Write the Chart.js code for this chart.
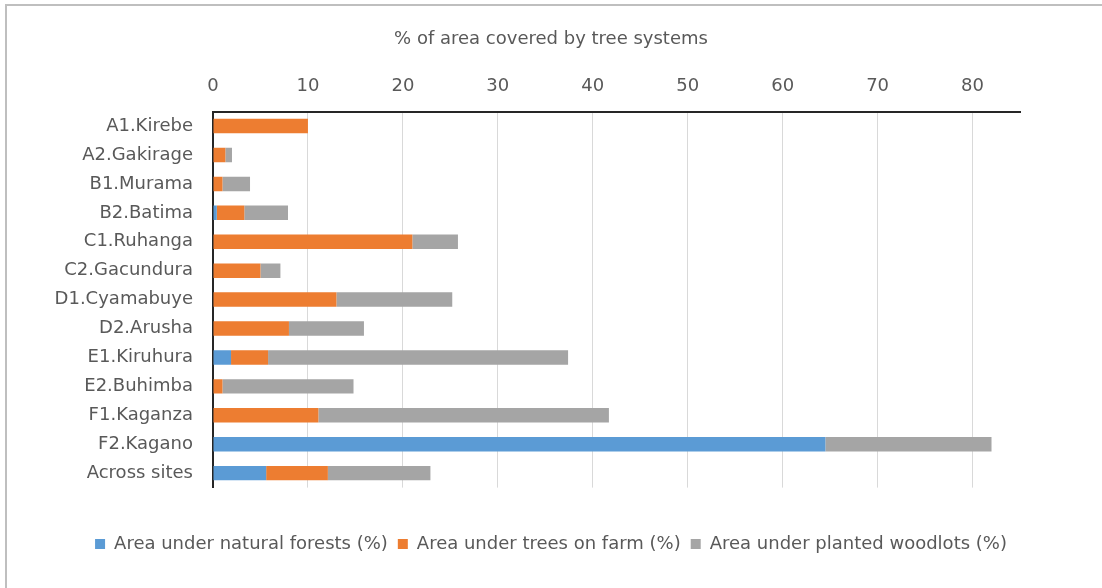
<!DOCTYPE html>
<html lang="en">
<head>
    <meta charset="UTF-8">
    <title>Tree systems cover by site</title>
    <script src="https://cdn.jsdelivr.net/npm/chart.js"></script>
    <style>
        html, body { margin: 0; padding: 0; background: #fff; overflow: hidden; }
        .frame { position: absolute; left: 5px; top: 4px; width: 1097px; height: 584px;
                 border-top: 2px solid #bfbfbf; border-left: 2px solid #bfbfbf; }
        #wrap { position: absolute; left: 0; top: 0; width: 1102px; height: 588px; }
    </style>
</head>
<body>
    <div class="frame"></div>
    <div id="wrap"><canvas id="coverChart"></canvas></div>

    <script>
        const sites = ['A1.Kirebe', 'A2.Gakirage', 'B1.Murama', 'B2.Batima', 'C1.Ruhanga',
                       'C2.Gacundura', 'D1.Cyamabuye', 'D2.Arusha', 'E1.Kiruhura', 'E2.Buhimba',
                       'F1.Kaganza', 'F2.Kagano', 'Across sites'];

        // % of site area under each tree system
        const naturalForest = [0, 0, 0, 0.4, 0, 0, 0, 0, 1.9, 0, 0, 64.5, 5.6];
        const treesOnFarm   = [10.0, 1.3, 1.0, 2.9, 21.0, 5.0, 13.0, 8.0, 3.9, 1.0, 11.1, 0, 6.5];
        const woodlots      = [0, 0.7, 2.9, 4.6, 4.8, 2.1, 12.2, 7.9, 31.6, 13.8, 30.6, 17.5, 10.8];

        const axisTicks = [0, 10, 20, 30, 40, 50, 60, 70, 80];

        const textColor = '#595959';
        const font = { family: "'DejaVu Sans', sans-serif", size: 18 };

        new Chart(document.getElementById('coverChart'), {
            type: 'bar',
            data: {
                labels: sites,
                datasets: [
                    { label: 'Area under natural forests (%)', data: naturalForest, backgroundColor: '#5b9bd5' },
                    { label: 'Area under trees on farm (%)', data: treesOnFarm, backgroundColor: '#ed7d31' },
                    { label: 'Area under planted woodlots (%)', data: woodlots, backgroundColor: '#a5a5a5' }
                ]
            },
            options: {
                indexAxis: 'y',
                responsive: true,
                maintainAspectRatio: false,
                animation: false,
                datasets: { bar: { barPercentage: 0.5, categoryPercentage: 1 } },
                layout: { padding: { left: 6, right: 6, top: 10, bottom: 25 } },
                plugins: {
                    tooltip: { enabled: false },
                    title: {
                        display: true,
                        text: '% of area covered by tree systems',
                        color: textColor,
                        font: { family: font.family, size: 18, weight: 'normal' },
                        padding: { top: 19, bottom: 0 }
                    },
                    legend: {
                        position: 'bottom',
                        // empty title just opens space between the plot and the key
                        title: { display: true, text: '', font: { size: 12 }, padding: { top: 23, bottom: 0 } },
                        labels: { color: textColor, font: font, boxWidth: 10, boxHeight: 10, padding: 10 }
                    }
                },
                scales: {
                    x: {
                        position: 'top',
                        stacked: true,
                        min: 0,
                        max: 85,
                        afterBuildTicks: axis => { axis.ticks = axisTicks.map(v => ({ value: v })); },
                        afterFit: scale => { scale.height = 61; },
                        ticks: { color: textColor, font: font, padding: 14 },
                        grid: { color: '#d9d9d9', lineWidth: 1, drawTicks: false },
                        border: { color: '#262626', width: 2 }
                    },
                    y: {
                        stacked: true,
                        afterFit: scale => { scale.width = 207; },
                        ticks: { color: textColor, font: font, padding: 20 },
                        grid: { display: false, drawTicks: false },
                        border: { color: '#262626', width: 2 }
                    },
                    // blank right-hand margin so the plot stops short of the frame
                    yRight: {
                        axis: 'y',
                        type: 'category',
                        position: 'right',
                        afterFit: scale => { scale.width = 76; },
                        ticks: { display: false },
                        grid: { display: false, drawTicks: false },
                        border: { display: false }
                    }
                }
            }
        });
    </script>
</body>
</html>
